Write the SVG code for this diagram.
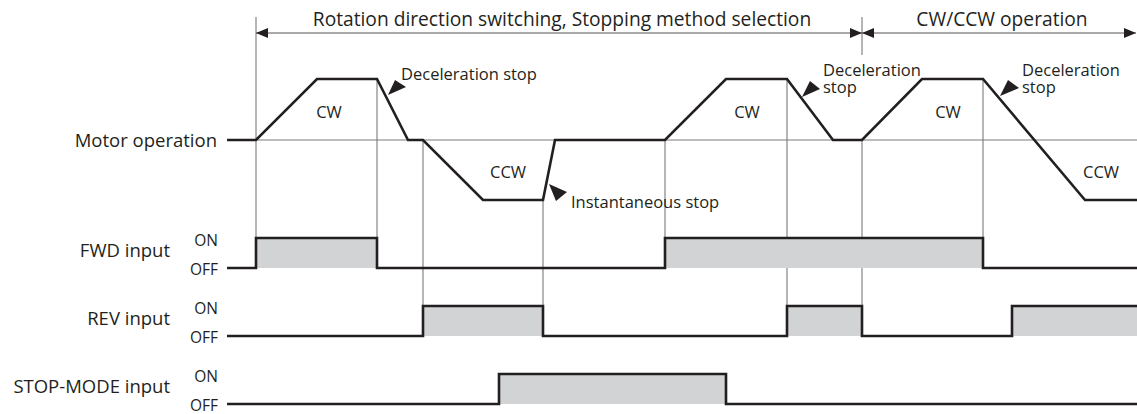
<svg xmlns="http://www.w3.org/2000/svg" width="1137" height="414" viewBox="0 0 1137 414">
<style>
text{font-family:"Open Sans","Noto Sans","Liberation Sans",sans-serif;fill:#231f20}
.lbl{font-size:18.5px;text-anchor:end}
.st{font-size:15.5px;text-anchor:end}
.sm{font-size:16.5px}
.ttl{font-size:19.2px;text-anchor:middle}
.wave{fill:none;stroke:#231f20;stroke-width:2.6;stroke-linejoin:miter}
.on{fill:#d1d3d4;stroke:none}
.grid{stroke:#7a7a7a;stroke-width:1.1;fill:none}
.dim{stroke:#555;stroke-width:1.2;fill:none}
.ah{fill:#231f20}
</style>
<defs>
<marker id="arr" viewBox="0 0 12 10" refX="12" refY="5" markerWidth="12" markerHeight="10" markerUnits="userSpaceOnUse" orient="auto-start-reverse">
<path d="M0,0 L12,5 L0,10 Z" fill="#231f20"/>
</marker>
</defs>
<rect width="1137" height="414" fill="#fff"/>

<g id="grid-lines">
<line class="grid" x1="256" y1="17" x2="256" y2="238"/>
<line class="grid" x1="377" y1="79" x2="377" y2="238"/>
<line class="grid" x1="423" y1="140" x2="423" y2="306"/>
<line class="grid" x1="543" y1="200" x2="543" y2="306"/>
<line class="grid" x1="665" y1="140" x2="665" y2="238"/>
<line class="grid" x1="787" y1="79" x2="787" y2="306"/>
<line class="grid" x1="862" y1="17" x2="862" y2="55"/>
<line class="grid" x1="862" y1="140" x2="862" y2="306"/>
<line class="grid" x1="983" y1="79" x2="983" y2="238"/>
<line class="grid" x1="256" y1="140" x2="1137" y2="140"/>
</g>

<g id="connectors">
<line class="dim" x1="256" y1="33" x2="862" y2="33" marker-start="url(#arr)" marker-end="url(#arr)"/>
<line class="dim" x1="862" y1="33" x2="1136" y2="33" marker-start="url(#arr)" marker-end="url(#arr)"/>
<polygon class="ah" points="388,95 395,80 406,87"/>
<polygon class="ah" points="802,97 810,81 820,89"/>
<polygon class="ah" points="1000,96 1008,80 1019,88"/>
<polygon class="ah" points="549,184 556,201 567,192"/>
</g>

<g id="title-1"><text class="ttl" x="562" y="26">Rotation direction switching, Stopping method selection</text></g>
<g id="title-2"><text class="ttl" x="1002" y="26">CW/CCW operation</text></g>

<g id="motor-operation">
<text class="lbl" x="217" y="147">Motor operation</text>
<path class="wave" d="M227,140 L256,140 L317,79 L377,79 L408,140 L423,140 L483,200 L543,200 L555,140 L665,140 L726,79 L787,79 L833,140 L862,140 L922,79 L983,79 L1085,200 L1137,200"/>
<text class="sm" x="329" y="118" text-anchor="middle">CW</text>
<text class="sm" x="508" y="178" text-anchor="middle">CCW</text>
<text class="sm" x="747" y="118" text-anchor="middle">CW</text>
<text class="sm" x="948" y="118" text-anchor="middle">CW</text>
<text class="sm" x="1101" y="178" text-anchor="middle">CCW</text>
<text class="sm" x="401" y="80">Deceleration stop</text>
<text class="sm" x="571" y="208">Instantaneous stop</text>
<text class="sm" x="823" y="76">Deceleration<tspan x="823" y="93">stop</tspan></text>
<text class="sm" x="1022" y="76">Deceleration<tspan x="1022" y="93">stop</tspan></text>
</g>

<g id="fwd-input">
<text class="lbl" x="170" y="257">FWD input</text>
<text class="st" x="218" y="246">ON</text>
<text class="st" x="218" y="275">OFF</text>
<rect class="on" x="256" y="238" width="121" height="30"/>
<rect class="on" x="665" y="238" width="318" height="30"/>
<path class="wave" d="M227,268 H256 V238 H377 V268 H665 V238 H983 V268 H1137"/>
</g>

<g id="rev-input">
<text class="lbl" x="170" y="325">REV input</text>
<text class="st" x="218" y="314">ON</text>
<text class="st" x="218" y="343">OFF</text>
<rect class="on" x="423" y="306" width="120" height="30"/>
<rect class="on" x="787" y="306" width="75" height="30"/>
<rect class="on" x="1012" y="306" width="125" height="30"/>
<path class="wave" d="M227,336 H423 V306 H543 V336 H787 V306 H862 V336 H1012 V306 H1137"/>
</g>

<g id="stop-mode-input">
<text class="lbl" x="170" y="393">STOP-MODE input</text>
<text class="st" x="218" y="382">ON</text>
<text class="st" x="218" y="411">OFF</text>
<rect class="on" x="499" y="374" width="227" height="30"/>
<path class="wave" d="M227,404 H499 V374 H726 V404 H1137"/>
</g>
</svg>
